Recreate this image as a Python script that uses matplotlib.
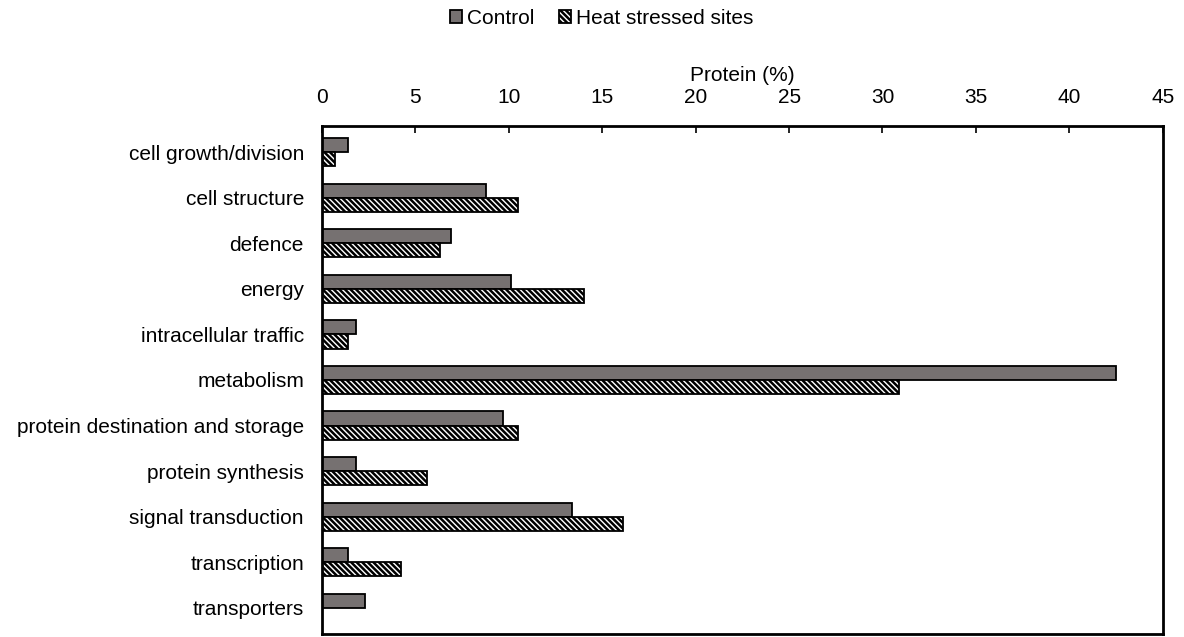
import matplotlib.pyplot as plt
import numpy as np

plt.rcParams['font.family'] = ['Liberation Sans', 'DejaVu Sans']
plt.rcParams['hatch.linewidth'] = 1.8

categories = ['cell growth/division', 'cell structure', 'defence', 'energy',
              'intracellular traffic', 'metabolism', 'protein destination and storage',
              'protein synthesis', 'signal transduction', 'transcription', 'transporters']
control = [1.4, 8.8, 6.9, 10.1, 1.8, 42.5, 9.7, 1.8, 13.4, 1.4, 2.3]
heat = [0.7, 10.5, 6.3, 14.0, 1.4, 30.9, 10.5, 5.6, 16.1, 4.2, 0.0]

y = np.arange(len(categories))
h = 0.31

fig = plt.figure(figsize=(11.84, 6.37), dpi=100)
ax = fig.add_axes([0.272, 0.005, 0.71, 0.797])

ax.barh(y - h / 2, control, height=h, color='#767171', edgecolor='black', linewidth=1.3, label='Control')
ax.barh(y + h / 2, heat, height=h, color='white', edgecolor='black', linewidth=1.3,
        hatch='\\\\\\\\\\\\', label='Heat stressed sites')

ax.set_xlim(0, 45)
ax.set_ylim(len(categories) - 0.43, -0.57)
ax.set_yticks(y)
ax.set_yticklabels(categories, fontsize=15)
ax.xaxis.tick_top()
ax.xaxis.set_label_position('top')
ax.set_xticks(range(0, 46, 5))
ax.tick_params(axis='x', direction='in', length=5, width=1.2, labelsize=15, pad=14)
ax.tick_params(axis='y', length=0, pad=13)
ax.set_xlabel('Protein (%)', fontsize=15, labelpad=5)
for s in ax.spines.values():
    s.set_linewidth(2)

fig.legend(loc='upper center', bbox_to_anchor=(0.508, 1.016), ncol=2, frameon=False, fontsize=15,
           handlelength=0.6, handleheight=0.6, handletextpad=0.2, columnspacing=1.2)

fig.savefig('out.png', dpi=100)
